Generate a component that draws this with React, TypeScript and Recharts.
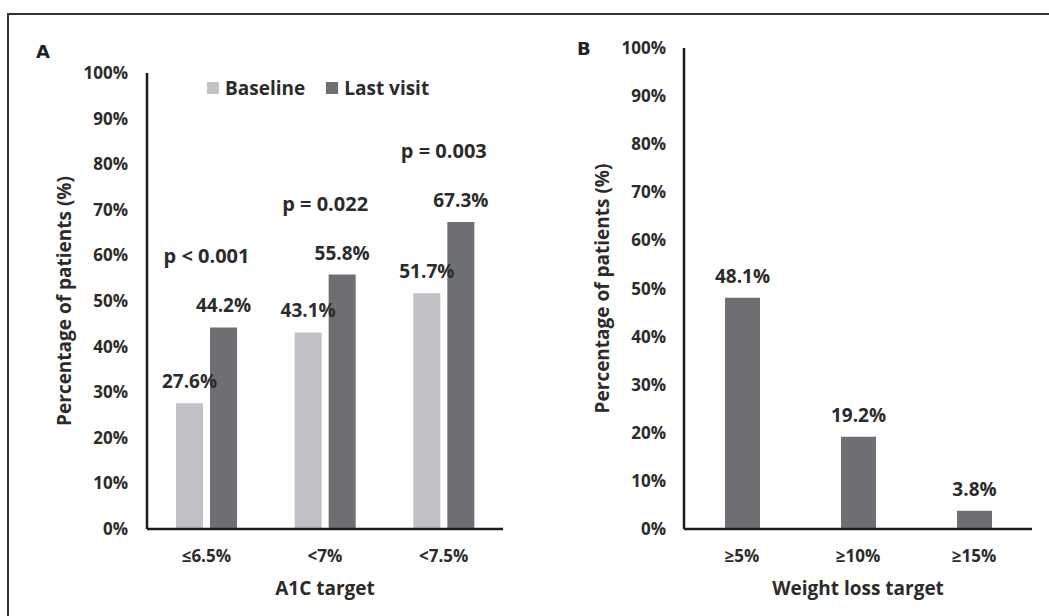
import React from 'react';
import { BarChart, Bar, XAxis, YAxis, LabelList, Legend } from 'recharts';

// ---- Data ----
const a1cCategories = ['≤6.5%', '<7%', '<7.5%'];
const baselineValues = [27.6, 43.1, 51.7];
const lastVisitValues = [44.2, 55.8, 67.3];
const pValueLabels = ['p < 0.001', 'p = 0.022', 'p = 0.003'];

const weightCategories = ['≥5%', '≥10%', '≥15%'];
const weightValues = [48.1, 19.2, 3.8];

const yTicks = [0, 10, 20, 30, 40, 50, 60, 70, 80, 90, 100];

const dataA = a1cCategories.map((cat, i) => ({
  cat,
  baseline: baselineValues[i],
  lastVisit: lastVisitValues[i],
  p: pValueLabels[i],
}));
const dataB = weightCategories.map((cat, i) => ({ cat, value: weightValues[i] }));

// ---- Styles ----
const FONT = "'Open Sans', 'Noto Sans', sans-serif";
const TEXT = '#2b2b2b';
const AXIS = '#1c1c1c';
const LIGHT = '#c1c2c5';
const DARK = '#6e6f73';
const BAR_GAP = 7;

const tickStyle = { fill: TEXT, fontSize: 17, fontWeight: 700, fontFamily: FONT };
const titleStyle = { fill: TEXT, fontSize: 19, fontWeight: 700, fontFamily: FONT };

const pct = (v: number) => `${v}%`;
const pct1 = (v: any) => `${Number(v).toFixed(1)}%`;

const renderP = (props: any) => {
  const { x, y, value } = props;
  return (
    <text
      x={Number(x) - BAR_GAP / 2}
      y={Number(y) - 64}
      textAnchor="middle"
      fill={TEXT}
      fontSize={20}
      fontWeight={700}
      fontFamily={FONT}
    >
      {value}
    </text>
  );
};

const renderLegend = (props: any) => {
  const { payload } = props;
  return (
    <div
      style={{
        display: 'flex',
        alignItems: 'center',
        fontFamily: FONT,
        fontSize: 19,
        fontWeight: 700,
        color: TEXT,
        lineHeight: '26px',
        whiteSpace: 'nowrap',
      }}
    >
      {(payload || []).map((e: any, i: number) => (
        <div key={i} style={{ display: 'flex', alignItems: 'center', marginRight: 21 }}>
          <span style={{ display: 'inline-block', width: 12, height: 12, background: e.color, marginRight: 6 }} />
          <span>{e.value}</span>
        </div>
      ))}
    </div>
  );
};

export default function App() {
  return (
    <div
      style={{
        position: 'absolute',
        left: 0,
        top: 0,
        width: 1049,
        height: 616,
        background: '#fff',
        overflow: 'hidden',
        fontFamily: FONT,
      }}
    >
      <div
        style={{
          position: 'absolute',
          left: 7,
          top: 13,
          width: 1060,
          height: 640,
          borderTop: '2px solid #333',
          borderLeft: '2px solid #333',
        }}
      />
      <div
        style={{
          position: 'absolute',
          left: 36,
          top: 41,
          fontFamily: "'DejaVu Sans', sans-serif",
          fontWeight: 700,
          fontSize: 18,
          color: '#222',
          lineHeight: '21px',
        }}
      >
        A
      </div>
      <div
        style={{
          position: 'absolute',
          left: 577,
          top: 38,
          fontFamily: "'DejaVu Sans', sans-serif",
          fontWeight: 700,
          fontSize: 18,
          color: '#222',
          lineHeight: '21px',
        }}
      >
        B
      </div>

      <div style={{ position: 'absolute', left: 0, top: 0 }}>
        <BarChart
          width={520}
          height={616}
          data={dataA}
          margin={{ top: 73, right: 17, bottom: 0, left: 0 }}
          barGap={BAR_GAP}
        >
          <XAxis
            dataKey="cat"
            height={87}
            axisLine={{ stroke: AXIS, strokeWidth: 2.5 }}
            tickLine={false}
            tickSize={0}
            tickMargin={21}
            tick={tickStyle}
            interval={0}
            label={{ value: 'A1C target', position: 'insideBottom', offset: 21, style: titleStyle }}
          />
          <YAxis
            width={147}
            domain={[0, 100]}
            ticks={yTicks}
            interval={0}
            tickFormatter={pct}
            axisLine={{ stroke: AXIS, strokeWidth: 2.5 }}
            tickLine={false}
            tickSize={0}
            tickMargin={19}
            tick={tickStyle}
            label={{
              value: 'Percentage of patients (%)',
              angle: -90,
              position: 'insideLeft',
              offset: 64,
              style: { ...titleStyle, textAnchor: 'middle' },
            }}
          />
          <Legend
            layout="vertical"
            align="center"
            verticalAlign="middle"
            content={renderLegend}
            wrapperStyle={{ left: 207, top: 75, width: 'auto', height: 'auto' }}
          />
          <Bar dataKey="baseline" name="Baseline" fill={LIGHT} barSize={27} isAnimationActive={false}>
            <LabelList
              dataKey="baseline"
              position="top"
              offset={15}
              formatter={pct1}
              fill={TEXT}
              fontSize={19}
              fontWeight={700}
              fontFamily={FONT}
            />
          </Bar>
          <Bar dataKey="lastVisit" name="Last visit" fill={DARK} barSize={27} isAnimationActive={false}>
            <LabelList
              dataKey="lastVisit"
              position="top"
              offset={15}
              formatter={pct1}
              fill={TEXT}
              fontSize={19}
              fontWeight={700}
              fontFamily={FONT}
            />
            <LabelList dataKey="p" content={renderP} />
          </Bar>
        </BarChart>
      </div>

      <div style={{ position: 'absolute', left: 520, top: 0 }}>
        <BarChart
          width={529}
          height={616}
          data={dataB}
          margin={{ top: 48, right: 17, bottom: 0, left: 0 }}
        >
          <XAxis
            dataKey="cat"
            height={87}
            axisLine={{ stroke: AXIS, strokeWidth: 2.5 }}
            tickLine={false}
            tickSize={0}
            tickMargin={21}
            tick={tickStyle}
            interval={0}
            label={{ value: 'Weight loss target', position: 'insideBottom', offset: 21, style: titleStyle }}
          />
          <YAxis
            width={164}
            domain={[0, 100]}
            ticks={yTicks}
            interval={0}
            tickFormatter={pct}
            axisLine={{ stroke: AXIS, strokeWidth: 2.5 }}
            tickLine={false}
            tickSize={0}
            tickMargin={18}
            tick={tickStyle}
            label={{
              value: 'Percentage of patients (%)',
              angle: -90,
              position: 'insideLeft',
              offset: 82,
              style: { ...titleStyle, textAnchor: 'middle' },
            }}
          />
          <Bar dataKey="value" name="Weight loss" fill={DARK} barSize={35} isAnimationActive={false}>
            <LabelList
              dataKey="value"
              position="top"
              offset={15}
              formatter={pct1}
              fill={TEXT}
              fontSize={19}
              fontWeight={700}
              fontFamily={FONT}
            />
          </Bar>
        </BarChart>
      </div>
    </div>
  );
}
